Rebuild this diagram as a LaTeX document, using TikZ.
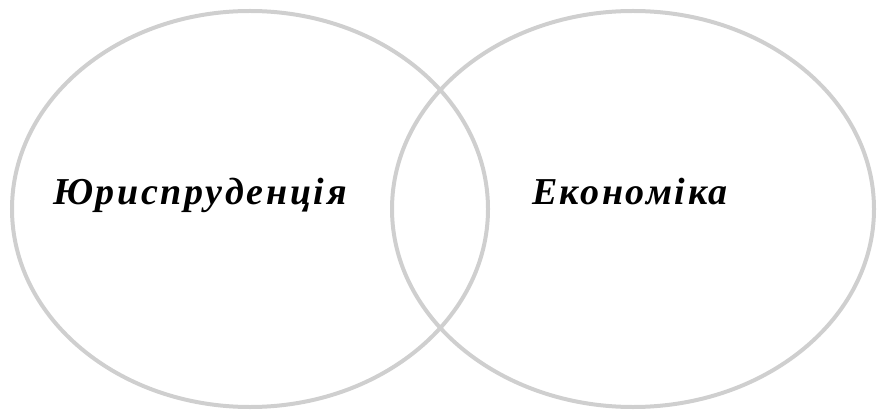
\documentclass[tikz,border=0pt]{standalone}
\usepackage{fontspec}
\newfontfamily\vennfont[LetterSpace=7]{Liberation Serif}
\usetikzlibrary{shapes.geometric}
\definecolor{venngray}{HTML}{CFCFCF}
\tikzset{
  vennset/.style={draw=venngray, line width=4pt, ellipse, inner sep=0pt},
  vennlabel/.style={font=\vennfont\bfseries\itshape\fontsize{38}{42}\selectfont, text=black, anchor=base}
}

\begin{document}
\begin{tikzpicture}[x=1pt,y=1pt]
  \useasboundingbox (0,0) rectangle (877,410);
  \node[vennset, minimum width=476pt, minimum height=396pt] (law) at (250,201) {};
  \node[vennset, minimum width=482pt, minimum height=396pt] (econ) at (633,201) {};
  \node[vennlabel] (lawlab) at (200,205) {Юриспруденція};
  \node[vennlabel] (econlab) at (630,205) {Економіка};
\end{tikzpicture}
\end{document}
